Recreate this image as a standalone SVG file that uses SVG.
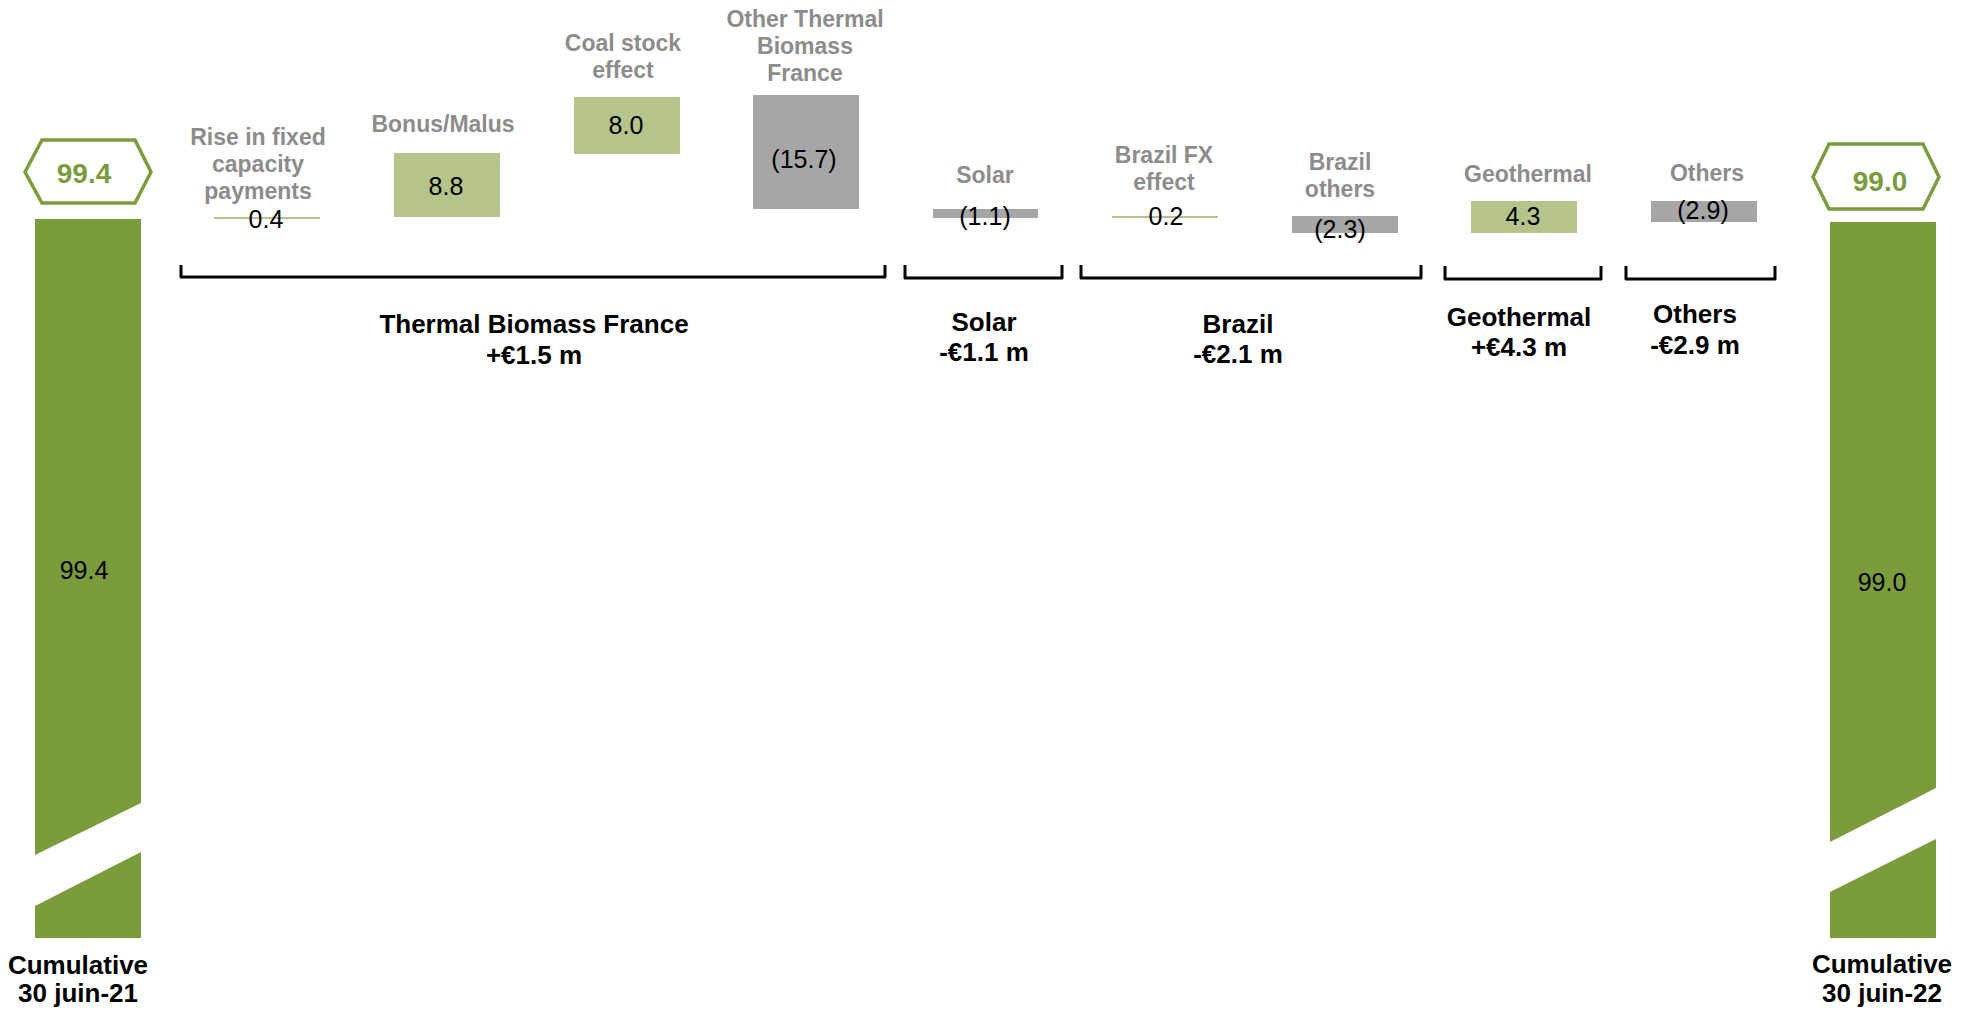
<svg xmlns="http://www.w3.org/2000/svg" width="1970" height="1010" viewBox="0 0 1970 1010">
<style>
.lbl{font-family:"Liberation Sans",Arial,sans-serif;font-weight:bold;font-size:23px;fill:#8c8c8c;text-anchor:middle}
.val{font-family:"Liberation Sans",Arial,sans-serif;font-size:25px;fill:#000;text-anchor:middle}
.grp{font-family:"Liberation Sans",Arial,sans-serif;font-weight:bold;font-size:26px;fill:#000;text-anchor:middle}
.hex{fill:#fff;stroke:#7a9c3c;stroke-width:3.5}
.hext{font-family:"Liberation Sans",Arial,sans-serif;font-weight:bold;font-size:28px;fill:#7a9c3c;text-anchor:middle}
.dg{fill:#7a9c3c}
.lg{fill:#b4c48a}
.gr{fill:#a6a6a6}
.br{fill:none;stroke:#000;stroke-width:3;stroke-linejoin:round}
</style>
<rect width="1970" height="1010" fill="#fff"/>

<g id="start">
<polygon class="hex" points="25,172 42,140 135,140 151,172 135,203 42,203"/>
<text class="hext" x="84" y="183">99.4</text>
<polygon class="dg" points="35,219 141,219 141,803 35,855"/>
<polygon class="dg" points="35,906 141,852 141,938 35,938"/>
<text class="val" x="84" y="579">99.4</text>
<text class="grp" x="78" y="974">Cumulative</text>
<text class="grp" x="78" y="1002">30 juin-21</text>
</g>

<g id="rise">
<text class="lbl" x="258" y="145">Rise in fixed</text>
<text class="lbl" x="258" y="172">capacity</text>
<text class="lbl" x="258" y="199">payments</text>
<rect class="lg" x="214" y="217" width="106" height="2"/>
<text class="val" x="266" y="228">0.4</text>
</g>

<g id="bonus">
<text class="lbl" x="443" y="132">Bonus/Malus</text>
<rect class="lg" x="394" y="153" width="106" height="64"/>
<text class="val" x="446" y="195">8.8</text>
</g>

<g id="coal">
<text class="lbl" x="623" y="51">Coal stock</text>
<text class="lbl" x="623" y="78">effect</text>
<rect class="lg" x="574" y="97" width="106" height="57"/>
<text class="val" x="626" y="134">8.0</text>
</g>

<g id="other-thermal">
<text class="lbl" x="805" y="27">Other Thermal</text>
<text class="lbl" x="805" y="54">Biomass</text>
<text class="lbl" x="805" y="81">France</text>
<rect class="gr" x="753" y="95" width="106" height="114"/>
<text class="val" x="804" y="168">(15.7)</text>
</g>

<g id="solar">
<text class="lbl" x="985" y="183">Solar</text>
<rect class="gr" x="933" y="209" width="105" height="9"/>
<text class="val" x="985" y="225">(1.1)</text>
</g>

<g id="brazil-fx">
<text class="lbl" x="1164" y="163">Brazil FX</text>
<text class="lbl" x="1164" y="190">effect</text>
<rect class="lg" x="1112" y="216" width="106" height="2"/>
<text class="val" x="1166" y="225">0.2</text>
</g>

<g id="brazil-others">
<text class="lbl" x="1340" y="170">Brazil</text>
<text class="lbl" x="1340" y="197">others</text>
<rect class="gr" x="1292" y="216" width="106" height="17"/>
<text class="val" x="1340" y="238">(2.3)</text>
</g>

<g id="geothermal">
<text class="lbl" x="1528" y="182">Geothermal</text>
<rect class="lg" x="1471" y="201" width="106" height="32"/>
<text class="val" x="1523" y="225">4.3</text>
</g>

<g id="others">
<text class="lbl" x="1707" y="181">Others</text>
<rect class="gr" x="1651" y="201" width="106" height="21"/>
<text class="val" x="1703" y="219">(2.9)</text>
</g>

<g id="end">
<polygon class="hex" points="1813,177 1829,144 1923,144 1939,177 1923,209 1829,209"/>
<text class="hext" x="1880" y="191">99.0</text>
<polygon class="dg" points="1830,222 1936,222 1936,788 1830,842"/>
<polygon class="dg" points="1830,892 1936,839 1936,938 1830,938"/>
<text class="val" x="1882" y="591">99.0</text>
<text class="grp" x="1882" y="973">Cumulative</text>
<text class="grp" x="1882" y="1002">30 juin-22</text>
</g>

<g id="brackets">
<path class="br" d="M181,265 V277 H885 V265"/>
<path class="br" d="M905,265 V278 H1062 V265"/>
<path class="br" d="M1081,265 V278 H1421 V265"/>
<path class="br" d="M1445,266 V279 H1601 V266"/>
<path class="br" d="M1626,266 V279 H1775 V266"/>
</g>

<g id="group-labels">
<text class="grp" x="534" y="333">Thermal Biomass France</text>
<text class="grp" x="534" y="364">+€1.5 m</text>
<text class="grp" x="984" y="331">Solar</text>
<text class="grp" x="984" y="361">-€1.1 m</text>
<text class="grp" x="1238" y="333">Brazil</text>
<text class="grp" x="1238" y="363">-€2.1 m</text>
<text class="grp" x="1519" y="326">Geothermal</text>
<text class="grp" x="1519" y="356">+€4.3 m</text>
<text class="grp" x="1695" y="323">Others</text>
<text class="grp" x="1695" y="354">-€2.9 m</text>
</g>
</svg>
